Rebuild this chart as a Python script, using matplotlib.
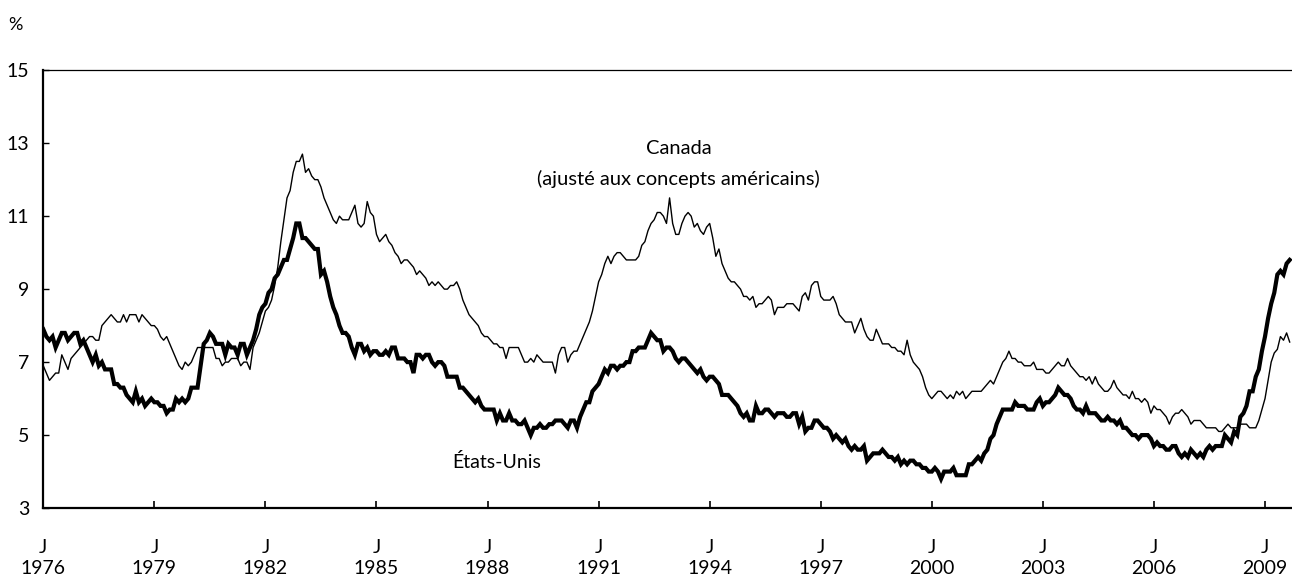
import numpy as np
import matplotlib
matplotlib.use("Agg")
import matplotlib.pyplot as plt

plt.rcParams['font.family'] = ['Lato', 'DejaVu Sans']

# Monthly unemployment rates, January 1976 to September 2009 (%)
us_rate = [
    7.9, 7.7, 7.6, 7.7, 7.4, 7.6, 7.8, 7.8, 7.6, 7.7, 7.8, 7.8,   # 1976
    7.5, 7.6, 7.4, 7.2, 7.0, 7.2, 6.9, 7.0, 6.8, 6.8, 6.8, 6.4,   # 1977
    6.4, 6.3, 6.3, 6.1, 6.0, 5.9, 6.2, 5.9, 6.0, 5.8, 5.9, 6.0,   # 1978
    5.9, 5.9, 5.8, 5.8, 5.6, 5.7, 5.7, 6.0, 5.9, 6.0, 5.9, 6.0,   # 1979
    6.3, 6.3, 6.3, 6.9, 7.5, 7.6, 7.8, 7.7, 7.5, 7.5, 7.5, 7.2,   # 1980
    7.5, 7.4, 7.4, 7.2, 7.5, 7.5, 7.2, 7.4, 7.6, 7.9, 8.3, 8.5,   # 1981
    8.6, 8.9, 9.0, 9.3, 9.4, 9.6, 9.8, 9.8, 10.1, 10.4, 10.8, 10.8,  # 1982
    10.4, 10.4, 10.3, 10.2, 10.1, 10.1, 9.4, 9.5, 9.2, 8.8, 8.5, 8.3,  # 1983
    8.0, 7.8, 7.8, 7.7, 7.4, 7.2, 7.5, 7.5, 7.3, 7.4, 7.2, 7.3,   # 1984
    7.3, 7.2, 7.2, 7.3, 7.2, 7.4, 7.4, 7.1, 7.1, 7.1, 7.0, 7.0,   # 1985
    6.7, 7.2, 7.2, 7.1, 7.2, 7.2, 7.0, 6.9, 7.0, 7.0, 6.9, 6.6,   # 1986
    6.6, 6.6, 6.6, 6.3, 6.3, 6.2, 6.1, 6.0, 5.9, 6.0, 5.8, 5.7,   # 1987
    5.7, 5.7, 5.7, 5.4, 5.6, 5.4, 5.4, 5.6, 5.4, 5.4, 5.3, 5.3,   # 1988
    5.4, 5.2, 5.0, 5.2, 5.2, 5.3, 5.2, 5.2, 5.3, 5.3, 5.4, 5.4,   # 1989
    5.4, 5.3, 5.2, 5.4, 5.4, 5.2, 5.5, 5.7, 5.9, 5.9, 6.2, 6.3,   # 1990
    6.4, 6.6, 6.8, 6.7, 6.9, 6.9, 6.8, 6.9, 6.9, 7.0, 7.0, 7.3,   # 1991
    7.3, 7.4, 7.4, 7.4, 7.6, 7.8, 7.7, 7.6, 7.6, 7.3, 7.4, 7.4,   # 1992
    7.3, 7.1, 7.0, 7.1, 7.1, 7.0, 6.9, 6.8, 6.7, 6.8, 6.6, 6.5,   # 1993
    6.6, 6.6, 6.5, 6.4, 6.1, 6.1, 6.1, 6.0, 5.9, 5.8, 5.6, 5.5,   # 1994
    5.6, 5.4, 5.4, 5.8, 5.6, 5.6, 5.7, 5.7, 5.6, 5.5, 5.6, 5.6,   # 1995
    5.6, 5.5, 5.5, 5.6, 5.6, 5.3, 5.5, 5.1, 5.2, 5.2, 5.4, 5.4,   # 1996
    5.3, 5.2, 5.2, 5.1, 4.9, 5.0, 4.9, 4.8, 4.9, 4.7, 4.6, 4.7,   # 1997
    4.6, 4.6, 4.7, 4.3, 4.4, 4.5, 4.5, 4.5, 4.6, 4.5, 4.4, 4.4,   # 1998
    4.3, 4.4, 4.2, 4.3, 4.2, 4.3, 4.3, 4.2, 4.2, 4.1, 4.1, 4.0,   # 1999
    4.0, 4.1, 4.0, 3.8, 4.0, 4.0, 4.0, 4.1, 3.9, 3.9, 3.9, 3.9,   # 2000
    4.2, 4.2, 4.3, 4.4, 4.3, 4.5, 4.6, 4.9, 5.0, 5.3, 5.5, 5.7,   # 2001
    5.7, 5.7, 5.7, 5.9, 5.8, 5.8, 5.8, 5.7, 5.7, 5.7, 5.9, 6.0,   # 2002
    5.8, 5.9, 5.9, 6.0, 6.1, 6.3, 6.2, 6.1, 6.1, 6.0, 5.8, 5.7,   # 2003
    5.7, 5.6, 5.8, 5.6, 5.6, 5.6, 5.5, 5.4, 5.4, 5.5, 5.4, 5.4,   # 2004
    5.3, 5.4, 5.2, 5.2, 5.1, 5.0, 5.0, 4.9, 5.0, 5.0, 5.0, 4.9,   # 2005
    4.7, 4.8, 4.7, 4.7, 4.6, 4.6, 4.7, 4.7, 4.5, 4.4, 4.5, 4.4,   # 2006
    4.6, 4.5, 4.4, 4.5, 4.4, 4.6, 4.7, 4.6, 4.7, 4.7, 4.7, 5.0,   # 2007
    4.9, 4.8, 5.1, 5.0, 5.5, 5.6, 5.8, 6.2, 6.2, 6.6, 6.8, 7.3,   # 2008
    7.7, 8.2, 8.6, 8.9, 9.4, 9.5, 9.4, 9.7, 9.8,                  # 2009
]

canada_rate = [
    6.9, 6.7, 6.5, 6.6, 6.7, 6.7, 7.2, 7.0, 6.8, 7.1, 7.2, 7.3,   # 1976
    7.4, 7.5, 7.6, 7.7, 7.7, 7.6, 7.6, 8.0, 8.1, 8.2, 8.3, 8.2,   # 1977
    8.1, 8.1, 8.3, 8.1, 8.3, 8.3, 8.3, 8.1, 8.3, 8.2, 8.1, 8.0,   # 1978
    8.0, 7.9, 7.7, 7.6, 7.7, 7.5, 7.3, 7.1, 6.9, 6.8, 7.0, 6.9,   # 1979
    7.0, 7.2, 7.4, 7.4, 7.4, 7.4, 7.4, 7.4, 7.1, 7.1, 6.9, 7.0,   # 1980
    7.0, 7.1, 7.1, 7.1, 6.9, 7.0, 7.0, 6.8, 7.4, 7.6, 7.8, 8.1,   # 1981
    8.4, 8.5, 8.7, 9.1, 9.6, 10.3, 10.9, 11.5, 11.7, 12.2, 12.5, 12.5,  # 1982
    12.7, 12.2, 12.3, 12.1, 12.0, 12.0, 11.8, 11.5, 11.3, 11.1, 10.9, 10.8,  # 1983
    11.0, 10.9, 10.9, 10.9, 11.1, 11.3, 10.8, 10.7, 10.8, 11.4, 11.1, 11.0,  # 1984
    10.5, 10.3, 10.4, 10.5, 10.3, 10.2, 10.0, 9.9, 9.7, 9.8, 9.8, 9.7,  # 1985
    9.6, 9.4, 9.5, 9.4, 9.3, 9.1, 9.2, 9.1, 9.2, 9.1, 9.0, 9.0,   # 1986
    9.1, 9.1, 9.2, 9.0, 8.7, 8.5, 8.3, 8.2, 8.1, 8.0, 7.8, 7.7,   # 1987
    7.7, 7.6, 7.5, 7.5, 7.4, 7.4, 7.1, 7.4, 7.4, 7.4, 7.4, 7.2,   # 1988
    7.0, 7.0, 7.1, 7.0, 7.2, 7.1, 7.0, 7.0, 7.0, 7.0, 6.7, 7.2,   # 1989
    7.4, 7.4, 7.0, 7.2, 7.3, 7.3, 7.5, 7.7, 7.9, 8.1, 8.4, 8.8,   # 1990
    9.2, 9.4, 9.7, 9.9, 9.7, 9.9, 10.0, 10.0, 9.9, 9.8, 9.8, 9.8,  # 1991
    9.8, 9.9, 10.2, 10.3, 10.6, 10.8, 10.9, 11.1, 11.1, 11.0, 10.8, 11.5,  # 1992
    10.8, 10.5, 10.5, 10.8, 11.0, 11.1, 11.0, 10.7, 10.8, 10.6, 10.5, 10.7,  # 1993
    10.8, 10.4, 9.9, 10.1, 9.7, 9.5, 9.3, 9.2, 9.2, 9.1, 9.0, 8.8,  # 1994
    8.8, 8.7, 8.8, 8.5, 8.6, 8.6, 8.7, 8.8, 8.7, 8.3, 8.5, 8.5,   # 1995
    8.5, 8.6, 8.6, 8.6, 8.5, 8.4, 8.8, 8.9, 8.7, 9.1, 9.2, 9.2,   # 1996
    8.8, 8.7, 8.7, 8.7, 8.8, 8.6, 8.3, 8.2, 8.1, 8.1, 8.1, 7.8,   # 1997
    8.0, 8.2, 7.9, 7.7, 7.6, 7.6, 7.9, 7.7, 7.5, 7.5, 7.5, 7.4,   # 1998
    7.4, 7.3, 7.3, 7.2, 7.6, 7.2, 7.0, 6.9, 6.8, 6.6, 6.3, 6.1,   # 1999
    6.0, 6.1, 6.2, 6.2, 6.1, 6.0, 6.1, 6.0, 6.2, 6.1, 6.2, 6.0,   # 2000
    6.1, 6.2, 6.2, 6.2, 6.2, 6.3, 6.4, 6.5, 6.4, 6.6, 6.8, 7.0,   # 2001
    7.1, 7.3, 7.1, 7.1, 7.0, 7.0, 6.9, 6.9, 6.9, 7.0, 6.8, 6.8,   # 2002
    6.8, 6.7, 6.7, 6.8, 6.9, 7.0, 6.9, 6.9, 7.1, 6.9, 6.8, 6.7,   # 2003
    6.6, 6.6, 6.5, 6.6, 6.4, 6.6, 6.4, 6.3, 6.2, 6.2, 6.3, 6.5,   # 2004
    6.3, 6.2, 6.1, 6.1, 6.0, 6.2, 6.0, 6.0, 5.9, 6.0, 5.9, 5.6,   # 2005
    5.8, 5.7, 5.7, 5.6, 5.5, 5.3, 5.5, 5.6, 5.6, 5.7, 5.6, 5.5,   # 2006
    5.3, 5.4, 5.4, 5.4, 5.3, 5.2, 5.2, 5.2, 5.2, 5.1, 5.1, 5.2,   # 2007
    5.3, 5.2, 5.2, 5.2, 5.3, 5.3, 5.3, 5.2, 5.2, 5.2, 5.4, 5.7,   # 2008
    6.0, 6.5, 7.0, 7.25, 7.35, 7.7, 7.6, 7.8, 7.55,               # 2009
]

tick_years = [1976, 1979, 1982, 1985, 1988, 1991, 1994, 1997, 2000, 2003, 2006, 2009]
y_ticks = [3, 5, 7, 9, 11, 13, 15]

label_canada = "Canada\n(ajusté aux concepts américains)"
label_us = "États-Unis"

months = np.arange(len(us_rate))
tick_pos = [(y - 1976) * 12 for y in tick_years]

fig = plt.figure(figsize=(12.92, 5.80), dpi=100)
ax = fig.add_axes([0.0335, 0.124, 0.9665, 0.755])

ax.plot(months, us_rate, color='black', lw=3.0, solid_joinstyle='miter')
ax.plot(months, canada_rate, color='black', lw=1.0)

ax.set_xlim(0, 404.75)
ax.set_ylim(3, 15)

ax.spines['right'].set_visible(False)
ax.spines['left'].set_linewidth(1.6)
ax.spines['bottom'].set_linewidth(1.6)
ax.spines['top'].set_linewidth(0.9)

ax.set_xticks(tick_pos)
ax.set_xticklabels([f"J\n{y}" for y in tick_years], fontsize=14, linespacing=1.3)
ax.set_yticks(y_ticks)
ax.set_yticklabels([str(v) for v in y_ticks], fontsize=14)
ax.tick_params(axis='x', direction='in', length=5, width=1.2, pad=22)
ax.tick_params(axis='y', direction='in', length=4, width=1.0, pad=10)

ax.text(206, 12.43, label_canada, ha='center', va='center', fontsize=14.5, linespacing=1.8)
ax.text(147, 4.26, label_us, ha='center', va='center', fontsize=14)

fig.text(0.006, 0.957, "%", fontsize=13, ha='left', va='center')

fig.savefig("out.png", dpi=100)
